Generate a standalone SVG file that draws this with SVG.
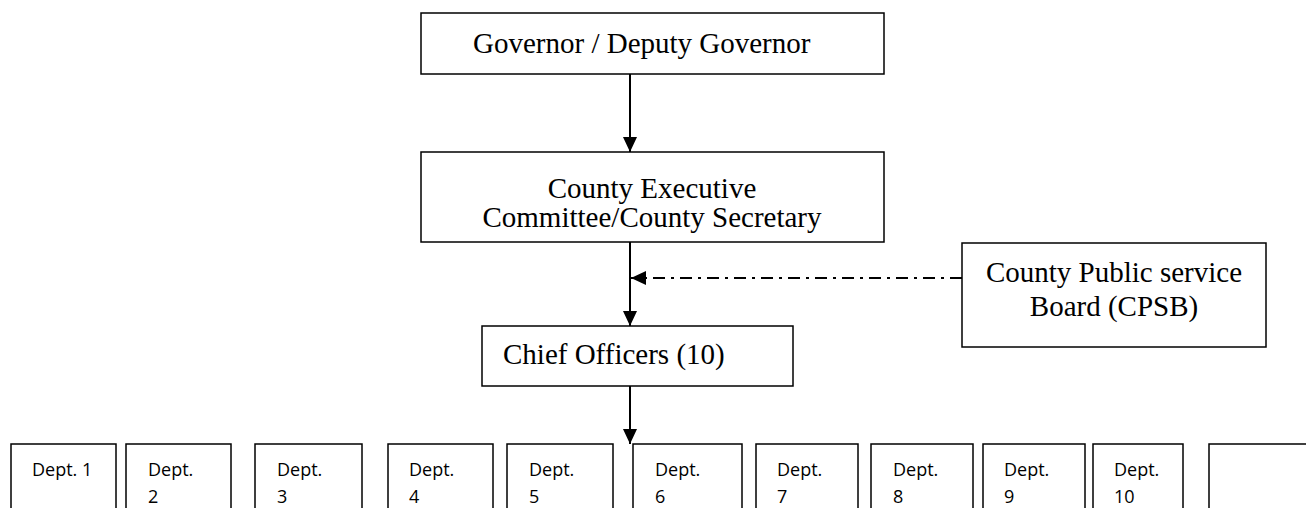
<svg xmlns="http://www.w3.org/2000/svg" width="1306" height="508" viewBox="0 0 1306 508">
<defs>
<style>
.box{fill:#fff;stroke:#000;stroke-width:1.5}
.serif{font-family:"Liberation Serif","Times New Roman",serif;font-size:29px;fill:#000}
.sans{font-family:"Open Sans","Noto Sans",sans-serif;font-size:18px;fill:#000}
.conn{stroke:#000;stroke-width:2;fill:none}
.dash{stroke:#000;stroke-width:2;fill:none;stroke-dasharray:12 6 3 6}
</style>
<marker id="arr" viewBox="0 0 15 14" refX="15" refY="7" markerWidth="15" markerHeight="14" markerUnits="userSpaceOnUse" orient="auto">
<path d="M0,0 L15,7 L0,14 Z" fill="#000"/>
</marker>
</defs>
<rect width="1306" height="508" fill="#fff"/>
<g id="connectors">
<line class="conn" x1="630" y1="74" x2="630" y2="152" marker-end="url(#arr)"/>
<line class="conn" x1="630" y1="242" x2="630" y2="326" marker-end="url(#arr)"/>
<line class="dash" x1="962" y1="278" x2="631" y2="278" marker-end="url(#arr)"/>
<line class="conn" x1="630" y1="386" x2="630" y2="444" marker-end="url(#arr)"/>
</g>
<g id="governor">
<rect class="box" x="421" y="13" width="463" height="61"/>
<text class="serif" x="473" y="53">Governor / Deputy Governor</text>
</g>
<g id="cec">
<rect class="box" x="421" y="152" width="463" height="90"/>
<text class="serif" x="652" y="198" text-anchor="middle">County Executive</text>
<text class="serif" x="652" y="227" text-anchor="middle">Committee/County Secretary</text>
</g>
<g id="cpsb">
<rect class="box" x="962" y="243" width="304" height="104"/>
<text class="serif" x="1114" y="282" text-anchor="middle">County Public service</text>
<text class="serif" x="1114" y="316" text-anchor="middle">Board (CPSB)</text>
</g>
<g id="chief">
<rect class="box" x="482" y="326" width="311" height="60"/>
<text class="serif" x="503" y="364">Chief Officers (10)</text>
</g>
<g id="dept1"><rect class="box" x="11" y="444" width="105" height="80"/><text class="sans" x="32" y="476">Dept. 1</text></g>
<g id="dept2"><rect class="box" x="126" y="444" width="105" height="80"/><text class="sans" x="148" y="476">Dept.</text><text class="sans" x="148" y="503">2</text></g>
<g id="dept3"><rect class="box" x="255" y="444" width="107" height="80"/><text class="sans" x="277" y="476">Dept.</text><text class="sans" x="277" y="503">3</text></g>
<g id="dept4"><rect class="box" x="388" y="444" width="105" height="80"/><text class="sans" x="409" y="476">Dept.</text><text class="sans" x="409" y="503">4</text></g>
<g id="dept5"><rect class="box" x="507" y="444" width="106" height="80"/><text class="sans" x="529" y="476">Dept.</text><text class="sans" x="529" y="503">5</text></g>
<g id="dept6"><rect class="box" x="633" y="444" width="109" height="80"/><text class="sans" x="655" y="476">Dept.</text><text class="sans" x="655" y="503">6</text></g>
<g id="dept7"><rect class="box" x="756" y="444" width="102" height="80"/><text class="sans" x="777" y="476">Dept.</text><text class="sans" x="777" y="503">7</text></g>
<g id="dept8"><rect class="box" x="871" y="444" width="102" height="80"/><text class="sans" x="893" y="476">Dept.</text><text class="sans" x="893" y="503">8</text></g>
<g id="dept9"><rect class="box" x="983" y="444" width="102" height="80"/><text class="sans" x="1004" y="476">Dept.</text><text class="sans" x="1004" y="503">9</text></g>
<g id="dept10"><rect class="box" x="1093" y="444" width="90" height="80"/><text class="sans" x="1114" y="476">Dept.</text><text class="sans" x="1114" y="503">10</text></g>
<g id="dept11"><rect class="box" x="1209" y="444" width="110" height="80"/></g>
</svg>
